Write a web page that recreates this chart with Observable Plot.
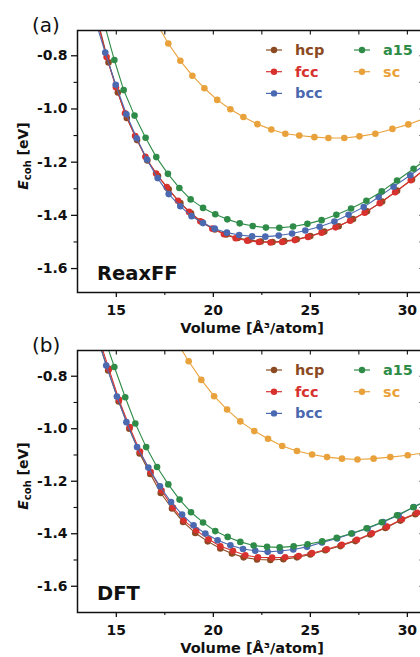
<!DOCTYPE html>
<html>
<head>
<meta charset="utf-8">
<script src="https://cdn.jsdelivr.net/npm/d3@7"></script>
<script src="https://cdn.jsdelivr.net/npm/@observablehq/plot@0.6"></script>
<style>
  html, body { margin: 0; padding: 0; background: #fff; width: 420px; height: 657px; overflow: hidden; }
  #chart { position: relative; width: 420px; height: 657px; overflow: hidden; }
  #chart svg { position: absolute; left: 0; display: block; max-width: none !important; }
</style>
</head>
<body>
<div id="chart"></div>
<script>
// ---- categories, labels, ticks ----
const structures = ["hcp", "fcc", "bcc", "a15", "sc"];
const colors = ["#8b4a22", "#d8322f", "#4b69b0", "#2f8c48", "#e9a23b"];
const methods = ["ReaxFF", "DFT"];
const panelTags = ["(a)", "(b)"];
const xLabel = "Volume [Å³/atom]";
const xMajor = [15, 20, 25, 30];
const xMinor = [17.5, 22.5, 27.5];
const yMajor = [-0.8, -1.0, -1.2, -1.4, -1.6];
const yMinor = [-0.9, -1.1, -1.3, -1.5];

// ---- panel (a): ReaxFF, [volume, E_coh] ----
const reaxHcp = [[14.12,-0.69],[14.60,-0.825],[15.08,-0.938],[15.54,-1.034],[16.07,-1.117],[16.60,-1.194],[17.15,-1.252],[17.70,-1.302],[18.30,-1.354],[18.85,-1.392],[19.43,-1.426],[20.08,-1.453],[20.67,-1.472],[21.26,-1.485],[21.85,-1.493],[22.45,-1.498],[23.05,-1.500],[23.65,-1.497],[24.30,-1.490],[25.00,-1.478],[25.72,-1.461],[26.46,-1.441],[27.20,-1.414],[27.92,-1.385],[28.70,-1.348],[29.47,-1.307],[30.24,-1.265],[31.02,-1.22]];
const reaxFcc = [[14.02,-0.67],[14.50,-0.805],[14.98,-0.918],[15.45,-1.016],[15.97,-1.102],[16.50,-1.180],[17.05,-1.243],[17.60,-1.294],[18.18,-1.345],[18.75,-1.387],[19.33,-1.422],[19.95,-1.450],[20.55,-1.471],[21.15,-1.486],[21.75,-1.495],[22.35,-1.500],[22.95,-1.502],[23.55,-1.500],[24.20,-1.493],[24.88,-1.481],[25.58,-1.465],[26.30,-1.445],[27.05,-1.420],[27.80,-1.390],[28.58,-1.354],[29.37,-1.313],[30.18,-1.268],[30.98,-1.222]];
const reaxBcc = [[13.93,-0.67],[14.43,-0.788],[14.97,-0.909],[15.52,-1.020],[16.05,-1.110],[16.58,-1.190],[17.13,-1.260],[17.70,-1.320],[18.30,-1.366],[18.88,-1.403],[19.47,-1.429],[20.07,-1.450],[20.70,-1.465],[21.33,-1.474],[22.00,-1.479],[22.68,-1.480],[23.37,-1.476],[24.06,-1.468],[24.74,-1.457],[25.48,-1.443],[26.24,-1.423],[26.97,-1.398],[27.75,-1.369],[28.52,-1.331],[29.29,-1.292],[30.15,-1.249],[31.0,-1.205]];
const reaxA15 = [[14.42,-0.69],[14.90,-0.816],[15.38,-0.929],[15.94,-1.025],[16.51,-1.108],[17.06,-1.181],[17.66,-1.244],[18.25,-1.297],[18.83,-1.340],[19.47,-1.372],[20.10,-1.396],[20.72,-1.415],[21.36,-1.430],[22.03,-1.440],[22.71,-1.446],[23.40,-1.447],[24.11,-1.442],[24.85,-1.432],[25.58,-1.418],[26.34,-1.398],[27.10,-1.374],[27.89,-1.345],[28.68,-1.310],[29.47,-1.269],[30.32,-1.225],[31.15,-1.18]];
const reaxSc = [[17.06,-0.675],[17.68,-0.754],[18.30,-0.819],[18.92,-0.875],[19.54,-0.922],[20.20,-0.966],[20.88,-1.001],[21.55,-1.030],[22.27,-1.057],[22.99,-1.077],[23.71,-1.093],[24.43,-1.100],[25.21,-1.106],[25.93,-1.109],[26.75,-1.109],[27.53,-1.103],[28.35,-1.093],[29.23,-1.075],[30.05,-1.058],[30.90,-1.035]];

// ---- panel (b): DFT, [volume, E_coh] ----
const dftHcp = [[14.10,-0.67],[14.58,-0.778],[15.12,-0.896],[15.67,-1.000],[16.20,-1.094],[16.75,-1.172],[17.29,-1.245],[17.87,-1.304],[18.44,-1.355],[19.07,-1.397],[19.71,-1.429],[20.36,-1.456],[20.96,-1.475],[21.56,-1.490],[22.25,-1.498],[22.94,-1.500],[23.61,-1.497],[24.31,-1.490],[25.00,-1.479],[25.77,-1.463],[26.55,-1.447],[27.32,-1.428],[28.09,-1.403],[28.87,-1.378],[29.64,-1.350],[30.41,-1.326],[31.2,-1.30]];
const dftFcc = [[14.12,-0.66],[14.62,-0.772],[15.14,-0.890],[15.69,-0.994],[16.22,-1.087],[16.77,-1.165],[17.33,-1.235],[17.92,-1.300],[18.47,-1.349],[19.12,-1.387],[19.76,-1.421],[20.36,-1.448],[21.01,-1.465],[21.65,-1.482],[22.30,-1.490],[23.03,-1.491],[23.70,-1.490],[24.40,-1.485],[25.08,-1.474],[25.85,-1.459],[26.62,-1.442],[27.40,-1.423],[28.17,-1.398],[28.95,-1.373],[29.72,-1.345],[30.50,-1.320],[31.3,-1.29]];
const dftBcc = [[13.98,-0.64],[14.48,-0.759],[15.03,-0.877],[15.52,-0.975],[16.07,-1.070],[16.65,-1.148],[17.25,-1.219],[17.82,-1.279],[18.39,-1.327],[18.98,-1.368],[19.59,-1.399],[20.22,-1.425],[20.88,-1.444],[21.53,-1.458],[22.16,-1.465],[22.80,-1.469],[23.45,-1.466],[24.12,-1.460],[24.83,-1.450],[25.60,-1.433],[26.38,-1.418],[27.15,-1.399],[27.95,-1.380],[28.75,-1.355],[29.55,-1.330],[30.33,-1.298],[31.1,-1.27]];
const dftA15 = [[14.42,-0.66],[14.90,-0.765],[15.46,-0.880],[15.98,-0.980],[16.54,-1.070],[17.10,-1.146],[17.68,-1.212],[18.26,-1.270],[18.85,-1.318],[19.47,-1.357],[20.10,-1.390],[20.74,-1.412],[21.39,-1.431],[22.08,-1.445],[22.77,-1.450],[23.42,-1.452],[24.14,-1.448],[24.86,-1.440],[25.61,-1.429],[26.36,-1.415],[27.11,-1.399],[27.90,-1.379],[28.68,-1.356],[29.47,-1.330],[30.31,-1.299],[31.1,-1.27]];
const dftSc = [[18.08,-0.665],[18.73,-0.743],[19.38,-0.814],[20.04,-0.876],[20.71,-0.927],[21.39,-0.972],[22.11,-1.009],[22.82,-1.038],[23.55,-1.066],[24.31,-1.085],[25.09,-1.098],[25.86,-1.108],[26.63,-1.114],[27.43,-1.117],[28.26,-1.114],[29.12,-1.108],[30.02,-1.101],[30.9,-1.092]];

const FONT = "'DejaVu Sans', 'Liberation Sans', sans-serif";

function makePanel({series, yDomain, height, marginTop, marginBottom, tag, method}) {
  const seriesMarks = structures.flatMap((s, i) => [
    Plot.line(series[i], {x: d => d[0], y: d => d[1], stroke: colors[i], strokeWidth: 1.1, clip: true}),
    Plot.dot(series[i], {x: d => d[0], y: d => d[1], fill: colors[i], r: 3.3, clip: true})
  ]);
  const svg = Plot.plot({
    width: 423, height,
    marginLeft: 77, marginRight: 1, marginTop, marginBottom,
    style: {fontFamily: FONT, background: "transparent", overflow: "visible", color: "#111", maxWidth: "none"},
    x: {domain: [13, 30.78]},
    y: {domain: yDomain},
    marks: [
      ...seriesMarks,
      Plot.axisX({ticks: xMajor, tickSize: 5, tickPadding: 8, tickFormat: d => String(d), fontSize: 14, fontWeight: "bold", strokeWidth: 1.3, label: null}),
      Plot.axisX({ticks: xMinor, tickSize: 3, tickFormat: () => "", strokeWidth: 1.1, label: null}),
      Plot.axisX({anchor: "top", ticks: [...xMajor, ...xMinor], tickSize: -3.5, tickFormat: () => "", strokeWidth: 1.1, label: null}),
      Plot.axisY({ticks: yMajor, tickSize: 6, tickPadding: 4, tickFormat: d => d.toFixed(1), fontSize: 14, fontWeight: "bold", strokeWidth: 1.3, label: null}),
      Plot.axisY({ticks: yMinor, tickSize: 3.5, tickFormat: () => "", strokeWidth: 1.1, label: null}),
      Plot.axisY({anchor: "right", ticks: [...yMajor, ...yMinor], tickSize: -3.5, tickFormat: () => "", strokeWidth: 1.1, label: null}),
      Plot.frame({stroke: "#111", strokeWidth: 1.5})
    ]
  });
  const top = marginTop, bottom = height - marginBottom;
  const g = d3.select(svg).append("g").attr("font-family", FONT).attr("text-anchor", "start");
  // panel tag
  g.append("text").attr("x", 32).attr("y", top + 2).attr("text-anchor", "start").attr("font-size", 20).attr("fill", "#111").text(tag);
  // method label
  g.append("text").attr("x", 97).attr("y", bottom - 12).attr("text-anchor", "start").attr("font-size", 19.5).attr("font-weight", "bold").attr("fill", "#111").text(method);
  // x label
  g.append("text").attr("x", 252).attr("y", bottom + 40.5).attr("text-anchor", "middle")
    .attr("font-size", 14.5).attr("font-weight", "bold").attr("fill", "#111").text(xLabel);
  // y label
  const yl = g.append("text").attr("transform", `translate(28,${(top + bottom) / 2 - 5}) rotate(-90)`)
    .attr("text-anchor", "middle").attr("font-size", 14).attr("font-weight", "bold").attr("fill", "#111");
  yl.append("tspan").attr("font-style", "italic").text("E");
  yl.append("tspan").attr("font-size", 10).attr("dy", 3).text("coh");
  yl.append("tspan").attr("dy", -3).text(" [eV]");
  // legend (two columns)
  structures.forEach((s, i) => {
    const col = i < 3 ? 0 : 1, row = i < 3 ? i : i - 3;
    const lx = col === 0 ? 266 : 354;
    const ly = top + 20 + row * 21.7;
    const lg = g.append("g").attr("transform", `translate(${lx},${ly})`);
    lg.append("line").attr("x1", 0).attr("x2", 16).attr("y1", 0).attr("y2", 0).attr("stroke", colors[i]).attr("stroke-width", 1.2);
    lg.append("circle").attr("cx", 8).attr("cy", 0).attr("r", 3.2).attr("fill", colors[i]);
    lg.append("text").attr("x", 29).attr("y", 5).attr("text-anchor", "start").attr("font-size", 14.5).attr("font-weight", "bold").attr("fill", colors[i]).text(s);
  });
  return svg;
}

const chart = document.getElementById("chart");
const svgA = makePanel({
  series: [reaxHcp, reaxFcc, reaxBcc, reaxA15, reaxSc],
  yDomain: [-1.69, -0.705], height: 345, marginTop: 30, marginBottom: 53,
  tag: panelTags[0], method: methods[0]
});
svgA.style.top = "0px";
chart.appendChild(svgA);
const svgB = makePanel({
  series: [dftHcp, dftFcc, dftBcc, dftA15, dftSc],
  yDomain: [-1.70, -0.702], height: 324, marginTop: 17, marginBottom: 45,
  tag: panelTags[1], method: methods[1]
});
svgB.style.top = "333px";
chart.appendChild(svgB);
</script>
</body>
</html>
